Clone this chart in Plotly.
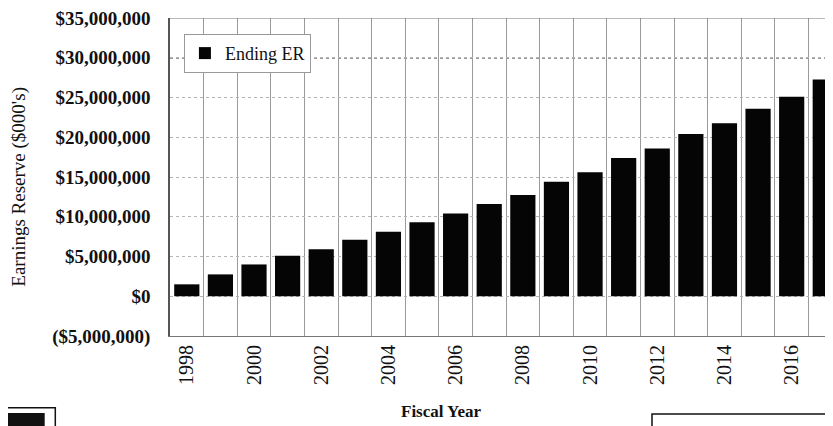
import plotly.graph_objects as go

years = list(range(1998, 2018))
ending_er = [1.5e6, 2.75e6, 4.0e6, 5.1e6, 5.9e6, 7.1e6, 8.1e6, 9.3e6, 10.4e6, 11.6e6,
             12.75e6, 14.4e6, 15.6e6, 17.4e6, 18.6e6, 20.4e6, 21.75e6, 23.6e6, 25.1e6, 27.25e6]
y_tickvals = [-5e6, 0, 5e6, 10e6, 15e6, 20e6, 25e6, 30e6, 35e6]
y_ticktext = ["($5,000,000)", "$0", "$5,000,000", "$10,000,000", "$15,000,000",
              "$20,000,000", "$25,000,000", "$30,000,000", "$35,000,000"]
x_tickvals = list(range(1998, 2018, 2))

FONT = "Liberation Serif"

fig = go.Figure()
fig.add_trace(go.Bar(x=years, y=ending_er, name="Ending ER",
                     marker=dict(color="#050505", line=dict(width=0)), width=0.75))

# the page body has an 8px margin, so the figure is 8px smaller and margins shifted
fig.update_layout(
    width=825, height=418,
    margin=dict(l=162, r=0, t=10, b=90, autoexpand=False),
    paper_bgcolor="white", plot_bgcolor="white",
    font=dict(family=FONT, color="#111111"),
    showlegend=True,
    legend=dict(x=0.021, y=0.95, xanchor="left", yanchor="top",
                bgcolor="white", bordercolor="#999999", borderwidth=1,
                font=dict(family=FONT, size=18, color="#111111"),
                itemwidth=30, tracegroupgap=0),
    bargap=0.25,
)
fig.update_xaxes(
    range=[1997.5, 2017.23],
    tickvals=x_tickvals, ticktext=[str(v) for v in x_tickvals],
    tickangle=-90, tickfont=dict(family=FONT, size=20, color="#111111"),
    showgrid=False, ticks="", automargin=False, ticklabeloverflow="allow",
    minor=dict(tick0=1997.5, dtick=1, showgrid=True, gridcolor="#9a9a9a", gridwidth=1),
    showline=True, linecolor="#777777", linewidth=1,
    zeroline=False,
)
fig.update_yaxes(
    range=[-5e6, 35e6],
    tickvals=y_tickvals, ticktext=y_ticktext,
    tickfont=dict(family=FONT, size=19, color="#111111", weight="bold"),
    showgrid=True, gridcolor="#b5b5b5", griddash="dot", gridwidth=1,
    showline=True, linecolor="#555555", linewidth=1.5,
    zeroline=False, ticks="", ticklabelstandoff=14, automargin=False,
    ticklabeloverflow="allow",
)
# top border of plot area
fig.add_shape(type="line", xref="paper", yref="y", x0=0, x1=1, y0=y_tickvals[-1], y1=y_tickvals[-1],
              line=dict(color="#777777", width=1))
# darker dashed line at $30M
fig.add_shape(type="line", xref="paper", yref="y", x0=0, x1=1, y0=y_tickvals[-2], y1=y_tickvals[-2],
              line=dict(color="#333333", width=1.3, dash="3px,3px"), layer="below")

fig.add_annotation(text="Earnings Reserve ($000's)", xref="paper", yref="paper",
                   x=-0.229, y=0.47, textangle=-90, xanchor="center", yanchor="middle",
                   showarrow=False, font=dict(family=FONT, size=19, color="#111111"))
fig.add_annotation(text="<b>Fiscal Year</b>", xref="paper", yref="paper", x=0.41, y=-0.236,
                   xanchor="center", yanchor="middle", showarrow=False,
                   font=dict(family=FONT, size=17, color="#111111"))

# scanned-page fragments at the bottom edges
fig.add_shape(type="rect", xref="paper", yref="paper", x0=-0.27, x1=-0.173, y0=-0.226, y1=-0.32,
              line=dict(color="#111111", width=1.5), fillcolor="white")
fig.add_shape(type="rect", xref="paper", yref="paper", x0=-0.27, x1=-0.189, y0=-0.242, y1=-0.32,
              line=dict(width=0), fillcolor="#111111")
fig.add_shape(type="rect", xref="paper", yref="paper", x0=0.727, x1=1.05, y0=-0.245, y1=-0.32,
              line=dict(color="#111111", width=1.5), fillcolor="white")

fig.write_html("out.html")
